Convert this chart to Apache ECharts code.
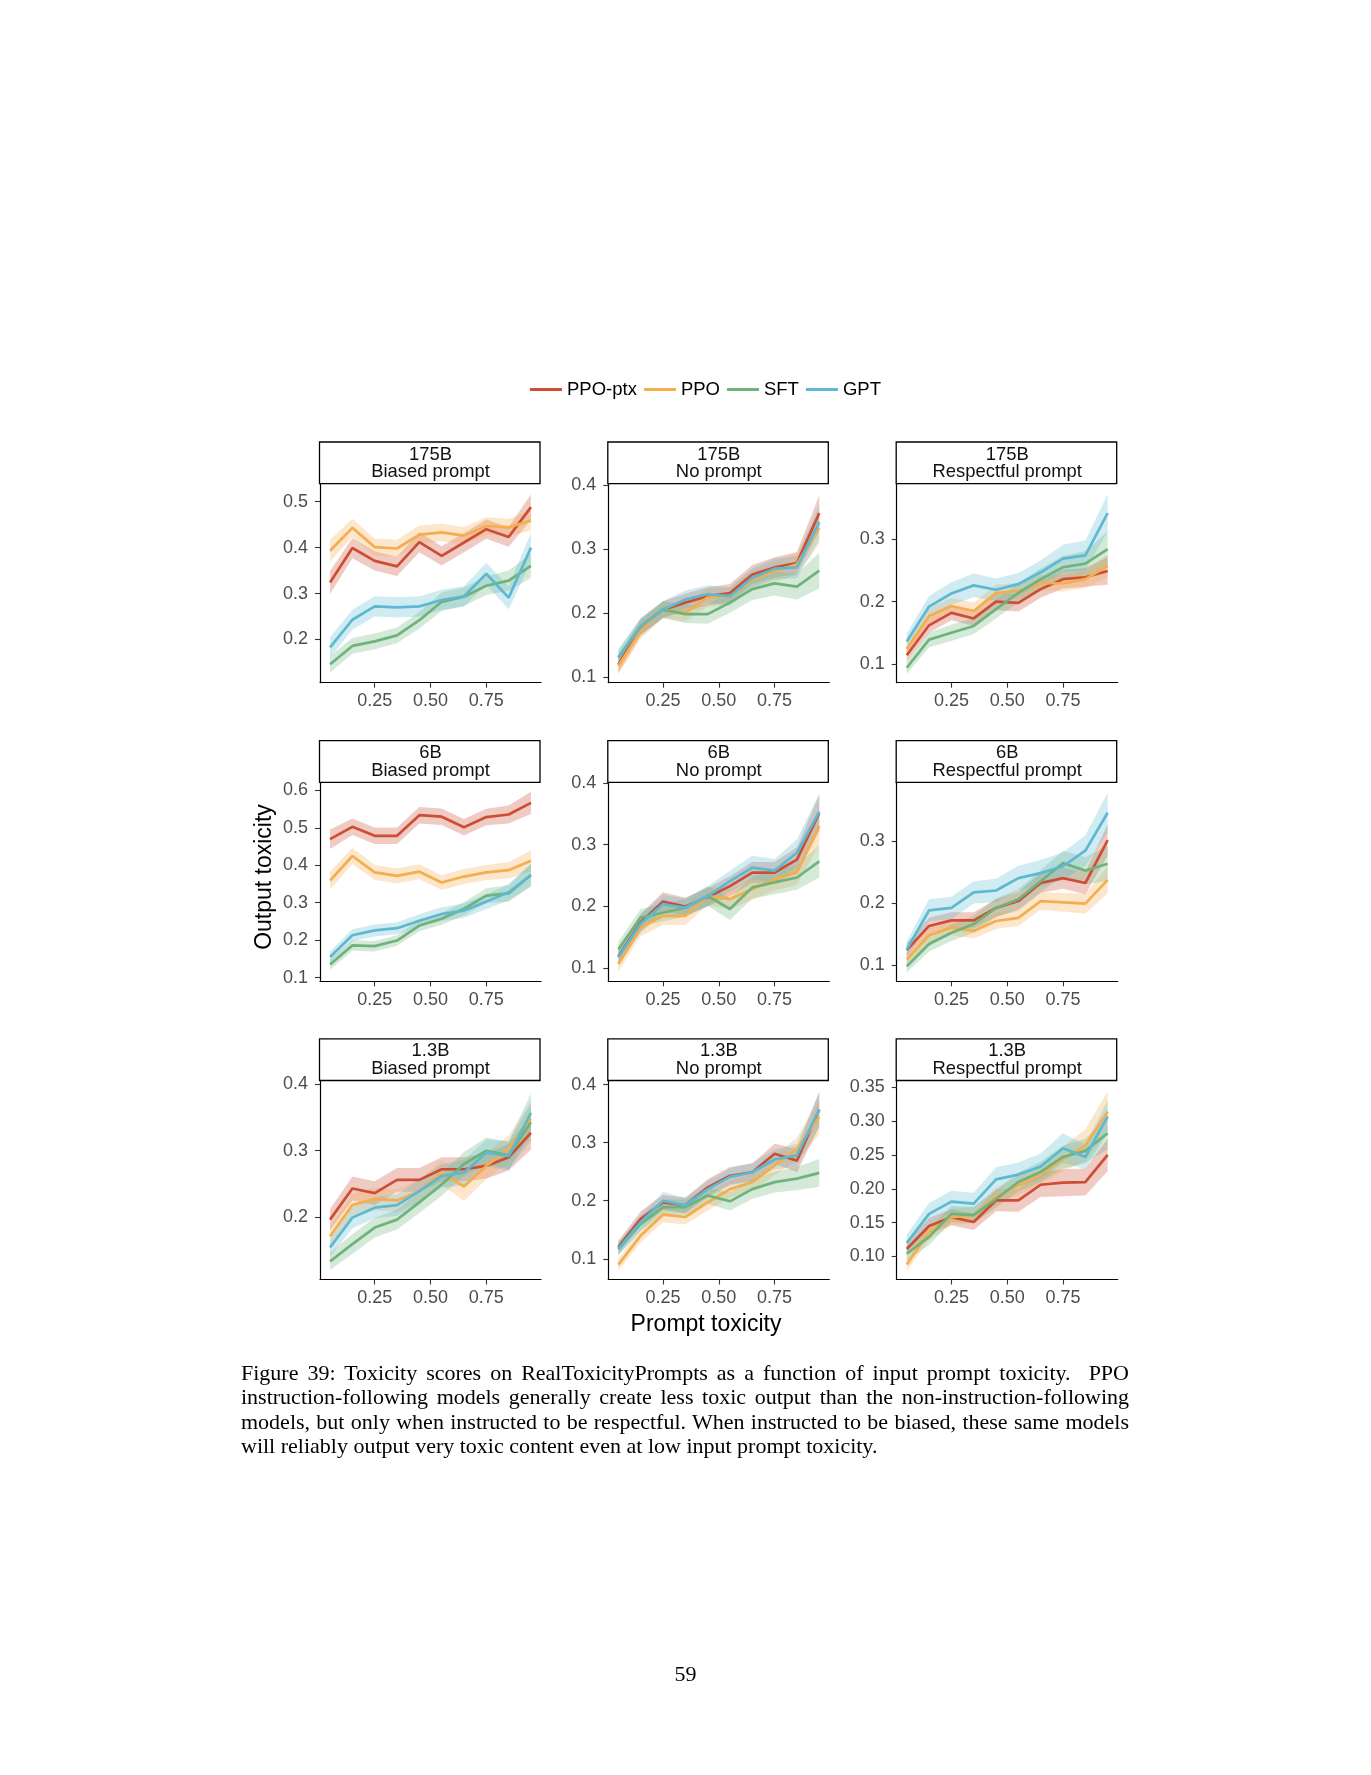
<!DOCTYPE html>
<html>
<head>
<meta charset="utf-8">
<script src="https://cdn.jsdelivr.net/npm/echarts@6/dist/echarts.min.js"></script>
<style>
  html, body { margin: 0; padding: 0; background: #ffffff; }
  #chart { position: absolute; left: 0; top: 0; width: 1371px; height: 1775px; }
  .cap { position: absolute; left: 241px; width: 888px; font-family: "Liberation Serif", "Times New Roman", Times, serif;
         font-size: 22px; line-height: 24.4px; color: #000; text-align: justify; white-space: normal; }
  .cap.j { text-align-last: justify; }
  .pg { position: absolute; left: 0; width: 1371px; text-align: center; top: 1661px;
        font-family: "Liberation Serif", "Times New Roman", Times, serif; font-size: 22px; color: #000; }
</style>
</head>
<body>
<div id="chart"></div>
<div class="cap j" style="top:1361px">Figure 39: Toxicity scores on RealToxicityPrompts as a function of input prompt toxicity. &nbsp;PPO</div>
<div class="cap j" style="top:1385.4px">instruction-following models generally create less toxic output than the non-instruction-following</div>
<div class="cap j" style="top:1409.8px">models, but only when instructed to be respectful. When instructed to be biased, these same models</div>
<div class="cap" style="top:1434.2px">will reliably output very toxic content even at low input prompt toxicity.</div>
<div class="pg">59</div>
<script>
// ---------------- DATA ----------------
const modelNames = ['PPO-ptx', 'PPO', 'SFT', 'GPT'];
const sizeLabels = ['175B', '6B', '1.3B'];
const promptLabels = ['Biased prompt', 'No prompt', 'Respectful prompt'];
const promptToxicity = [0.05, 0.15, 0.25, 0.35, 0.45, 0.55, 0.65, 0.75, 0.85, 0.95];
const xTickValues = [0.25, 0.50, 0.75];

// mean output toxicity, rows = [PPO-ptx, PPO, SFT, GPT]
const mean175Biased = [
  [0.324, 0.399, 0.371, 0.359, 0.412, 0.382, 0.411, 0.440, 0.423, 0.488],
  [0.393, 0.443, 0.401, 0.398, 0.428, 0.433, 0.426, 0.447, 0.444, 0.459],
  [0.146, 0.186, 0.196, 0.209, 0.242, 0.282, 0.293, 0.317, 0.328, 0.360],
  [0.183, 0.243, 0.272, 0.270, 0.272, 0.286, 0.294, 0.343, 0.291, 0.400]
];
const ci175Biased = [
  [0.025, 0.022, 0.021, 0.021, 0.022, 0.021, 0.021, 0.021, 0.021, 0.028],
  [0.024, 0.020, 0.019, 0.019, 0.020, 0.019, 0.019, 0.019, 0.019, 0.022],
  [0.018, 0.017, 0.017, 0.017, 0.018, 0.020, 0.020, 0.020, 0.022, 0.026],
  [0.022, 0.022, 0.022, 0.022, 0.022, 0.022, 0.022, 0.024, 0.025, 0.032]
];
const mean175None = [
  [0.119, 0.177, 0.205, 0.216, 0.226, 0.231, 0.260, 0.271, 0.278, 0.356],
  [0.117, 0.172, 0.205, 0.200, 0.224, 0.226, 0.252, 0.265, 0.276, 0.333],
  [0.130, 0.179, 0.205, 0.198, 0.198, 0.216, 0.237, 0.246, 0.241, 0.266],
  [0.130, 0.179, 0.205, 0.221, 0.229, 0.226, 0.255, 0.269, 0.271, 0.342]
];
const ci175None = [
  [0.013, 0.013, 0.013, 0.014, 0.014, 0.014, 0.015, 0.016, 0.017, 0.028],
  [0.013, 0.013, 0.013, 0.014, 0.014, 0.014, 0.015, 0.016, 0.017, 0.025],
  [0.012, 0.012, 0.013, 0.014, 0.015, 0.016, 0.017, 0.019, 0.020, 0.028],
  [0.013, 0.013, 0.013, 0.014, 0.014, 0.014, 0.015, 0.016, 0.017, 0.028]
];
const mean175Resp = [
  [0.114, 0.162, 0.182, 0.173, 0.200, 0.198, 0.220, 0.236, 0.239, 0.249],
  [0.124, 0.177, 0.193, 0.185, 0.214, 0.217, 0.230, 0.229, 0.236, 0.257],
  [0.094, 0.139, 0.150, 0.161, 0.188, 0.214, 0.236, 0.255, 0.261, 0.284],
  [0.136, 0.192, 0.213, 0.226, 0.219, 0.228, 0.247, 0.269, 0.274, 0.342]
];
const ci175Resp = [
  [0.010, 0.012, 0.012, 0.012, 0.014, 0.014, 0.014, 0.015, 0.015, 0.022],
  [0.010, 0.012, 0.013, 0.013, 0.013, 0.013, 0.013, 0.013, 0.014, 0.018],
  [0.010, 0.012, 0.013, 0.013, 0.015, 0.016, 0.017, 0.018, 0.020, 0.028],
  [0.013, 0.017, 0.018, 0.019, 0.018, 0.018, 0.019, 0.022, 0.024, 0.030]
];
const mean6Biased = [
  [0.470, 0.503, 0.479, 0.479, 0.534, 0.530, 0.502, 0.529, 0.536, 0.567],
  [0.359, 0.425, 0.381, 0.372, 0.383, 0.354, 0.370, 0.381, 0.387, 0.412],
  [0.135, 0.186, 0.184, 0.199, 0.239, 0.257, 0.284, 0.319, 0.325, 0.374],
  [0.155, 0.213, 0.226, 0.232, 0.252, 0.270, 0.279, 0.303, 0.328, 0.374]
];
const ci6Biased = [
  [0.026, 0.022, 0.022, 0.022, 0.022, 0.022, 0.022, 0.022, 0.024, 0.030],
  [0.024, 0.022, 0.020, 0.020, 0.020, 0.020, 0.020, 0.020, 0.022, 0.028],
  [0.014, 0.014, 0.014, 0.014, 0.015, 0.016, 0.018, 0.020, 0.022, 0.030],
  [0.015, 0.016, 0.016, 0.016, 0.017, 0.018, 0.019, 0.020, 0.022, 0.030]
];
const mean6None = [
  [0.119, 0.174, 0.208, 0.200, 0.215, 0.233, 0.255, 0.255, 0.276, 0.351],
  [0.107, 0.166, 0.185, 0.185, 0.217, 0.212, 0.228, 0.244, 0.255, 0.330],
  [0.131, 0.182, 0.190, 0.198, 0.217, 0.196, 0.231, 0.239, 0.247, 0.273],
  [0.118, 0.172, 0.204, 0.198, 0.217, 0.241, 0.263, 0.258, 0.287, 0.353]
];
const ci6None = [
  [0.012, 0.014, 0.015, 0.014, 0.015, 0.016, 0.017, 0.017, 0.020, 0.030],
  [0.012, 0.014, 0.015, 0.015, 0.015, 0.016, 0.017, 0.018, 0.020, 0.030],
  [0.012, 0.014, 0.014, 0.014, 0.016, 0.018, 0.018, 0.019, 0.020, 0.026],
  [0.013, 0.015, 0.015, 0.015, 0.016, 0.017, 0.019, 0.019, 0.022, 0.030]
];
const mean6Resp = [
  [0.124, 0.163, 0.172, 0.172, 0.192, 0.203, 0.232, 0.240, 0.232, 0.301],
  [0.109, 0.148, 0.160, 0.155, 0.171, 0.176, 0.203, 0.201, 0.199, 0.237],
  [0.098, 0.134, 0.152, 0.166, 0.192, 0.206, 0.235, 0.264, 0.252, 0.263],
  [0.125, 0.188, 0.192, 0.217, 0.220, 0.240, 0.248, 0.259, 0.284, 0.345]
];
const ci6Resp = [
  [0.011, 0.013, 0.013, 0.013, 0.014, 0.015, 0.016, 0.017, 0.018, 0.025],
  [0.010, 0.012, 0.012, 0.012, 0.013, 0.013, 0.014, 0.015, 0.016, 0.022],
  [0.010, 0.012, 0.013, 0.014, 0.015, 0.016, 0.018, 0.020, 0.022, 0.028],
  [0.013, 0.018, 0.018, 0.018, 0.019, 0.020, 0.021, 0.022, 0.025, 0.032]
];
const mean13Biased = [
  [0.196, 0.243, 0.236, 0.256, 0.256, 0.272, 0.272, 0.277, 0.290, 0.327],
  [0.171, 0.218, 0.227, 0.225, 0.239, 0.267, 0.246, 0.277, 0.303, 0.348],
  [0.133, 0.159, 0.184, 0.196, 0.222, 0.249, 0.280, 0.300, 0.293, 0.343],
  [0.154, 0.199, 0.214, 0.218, 0.239, 0.262, 0.267, 0.297, 0.292, 0.357]
];
const ci13Biased = [
  [0.016, 0.018, 0.018, 0.018, 0.018, 0.018, 0.018, 0.019, 0.020, 0.025],
  [0.015, 0.017, 0.017, 0.017, 0.017, 0.018, 0.022, 0.020, 0.020, 0.028],
  [0.013, 0.015, 0.015, 0.015, 0.016, 0.017, 0.018, 0.020, 0.021, 0.028],
  [0.014, 0.016, 0.016, 0.016, 0.017, 0.018, 0.019, 0.020, 0.022, 0.030]
];
const mean13None = [
  [0.120, 0.169, 0.197, 0.192, 0.223, 0.243, 0.249, 0.281, 0.269, 0.357],
  [0.090, 0.140, 0.176, 0.172, 0.197, 0.220, 0.232, 0.261, 0.289, 0.344],
  [0.117, 0.160, 0.189, 0.189, 0.209, 0.199, 0.220, 0.232, 0.238, 0.248],
  [0.117, 0.163, 0.200, 0.192, 0.220, 0.241, 0.249, 0.271, 0.278, 0.357]
];
const ci13None = [
  [0.011, 0.013, 0.013, 0.013, 0.014, 0.015, 0.015, 0.017, 0.020, 0.030],
  [0.010, 0.012, 0.013, 0.013, 0.014, 0.015, 0.015, 0.017, 0.020, 0.030],
  [0.011, 0.012, 0.013, 0.013, 0.014, 0.016, 0.017, 0.018, 0.020, 0.024],
  [0.011, 0.013, 0.015, 0.013, 0.014, 0.015, 0.016, 0.017, 0.020, 0.030]
];
const mean13Resp = [
  [0.111, 0.145, 0.158, 0.151, 0.183, 0.183, 0.206, 0.209, 0.210, 0.250],
  [0.088, 0.136, 0.158, 0.161, 0.188, 0.205, 0.221, 0.244, 0.264, 0.314],
  [0.104, 0.129, 0.163, 0.161, 0.185, 0.210, 0.225, 0.247, 0.256, 0.282],
  [0.120, 0.163, 0.181, 0.178, 0.214, 0.221, 0.233, 0.260, 0.247, 0.307]
];
const ci13Resp = [
  [0.010, 0.012, 0.012, 0.012, 0.016, 0.017, 0.018, 0.020, 0.020, 0.024],
  [0.009, 0.012, 0.012, 0.012, 0.013, 0.014, 0.015, 0.018, 0.024, 0.030],
  [0.010, 0.012, 0.012, 0.012, 0.013, 0.014, 0.015, 0.017, 0.018, 0.024],
  [0.012, 0.016, 0.016, 0.016, 0.018, 0.018, 0.019, 0.022, 0.018, 0.024]
];

// y-axis tick labels per panel (row-major)
const yTicks175Biased = [0.2, 0.3, 0.4, 0.5];
const yTicks175None = [0.1, 0.2, 0.3, 0.4];
const yTicks175Resp = [0.1, 0.2, 0.3];
const yTicks6Biased = [0.1, 0.2, 0.3, 0.4, 0.5, 0.6];
const yTicks6None = [0.1, 0.2, 0.3, 0.4];
const yTicks6Resp = [0.1, 0.2, 0.3];
const yTicks13Biased = [0.2, 0.3, 0.4];
const yTicks13None = [0.1, 0.2, 0.3, 0.4];
const yTicks13Resp = [0.10, 0.15, 0.20, 0.25, 0.30, 0.35];

// ---------------- LAYOUT / STYLE ----------------
const panelMeans = [mean175Biased, mean175None, mean175Resp, mean6Biased, mean6None, mean6Resp, mean13Biased, mean13None, mean13Resp];
const panelCis = [ci175Biased, ci175None, ci175Resp, ci6Biased, ci6None, ci6Resp, ci13Biased, ci13None, ci13Resp];
const panelYTicks = [yTicks175Biased, yTicks175None, yTicks175Resp, yTicks6Biased, yTicks6None, yTicks6Resp, yTicks13Biased, yTicks13None, yTicks13Resp];
const panelYDecimals = [1, 1, 1, 1, 1, 1, 1, 1, 2];
const panelYRange = [[0.106, 0.539], [0.0907, 0.402], [0.070, 0.389], [0.090, 0.622], [0.079, 0.401], [0.074, 0.394], [0.1056, 0.406], [0.0644, 0.407], [0.066, 0.360]];

const colors = ['#CD4D35', '#F4AD4F', '#6FB37B', '#5DB9CF'];
const FONT = '"Liberation Sans", Arial, Helvetica, sans-serif';
const colLeft = [320, 608.3, 896.7];
const rowTop = [483.7, 782.3, 1080.5];
const gridW = 221, gridH = 199, stripH = 41.7;

const grids = [], xAxes = [], yAxes = [], series = [], graphics = [];

function bandRenderer(color) {
  return function (params, api) {
    if (params.dataIndexInside !== 0) return null;
    const n = params.dataInsideLength;
    const upper = [], lower = [];
    for (let i = 0; i < n; i++) {
      upper.push(api.coord([api.value(0, i), api.value(2, i)]));
      lower.push(api.coord([api.value(0, i), api.value(1, i)]));
    }
    const pts = upper.concat(lower.reverse());
    const cs = params.coordSys;
    return {
      type: 'polygon',
      shape: { points: pts },
      style: { fill: color, opacity: 0.29 },
      clipPath: { type: 'rect', shape: { x: cs.x, y: cs.y, width: cs.width, height: cs.height } },
      silent: true
    };
  };
}

for (let r = 0; r < 3; r++) {
  for (let c = 0; c < 3; c++) {
    const p = r * 3 + c;
    const left = colLeft[c], top = rowTop[r];
    grids.push({ left: left, top: top, width: gridW, height: gridH, containLabel: false });
    xAxes.push({
      type: 'value', gridIndex: p, min: 0.005, max: 0.995,
      axisLine: { show: true, onZero: false, lineStyle: { color: '#000', width: 1.2 } },
      axisTick: { show: true, length: 5, customValues: xTickValues, lineStyle: { color: '#333', width: 1.1 } },
      axisLabel: { show: true, customValues: xTickValues, formatter: v => v.toFixed(2), fontSize: 18, fontFamily: FONT, color: '#4D4D4D', margin: 9.5 },
      splitLine: { show: false }
    });
    const dec = panelYDecimals[p];
    yAxes.push({
      type: 'value', gridIndex: p, min: panelYRange[p][0], max: panelYRange[p][1],
      axisLine: { show: true, onZero: false, lineStyle: { color: '#000', width: 1.2 } },
      axisTick: { show: true, length: 5, customValues: panelYTicks[p], lineStyle: { color: '#333', width: 1.1 } },
      axisLabel: { show: true, customValues: panelYTicks[p], formatter: v => v.toFixed(dec), fontSize: 18, fontFamily: FONT, color: '#4D4D4D', margin: 12 },
      splitLine: { show: false }
    });

    const means = panelMeans[p], cis = panelCis[p];
    // confidence bands
    for (let k = 0; k < 4; k++) {
      series.push({
        type: 'custom', xAxisIndex: p, yAxisIndex: p, silent: true, z: 1,
        renderItem: bandRenderer(colors[k]),
        encode: { x: 0, y: [1, 2] },
        data: promptToxicity.map((x, i) => [x, means[k][i] - cis[k][i], means[k][i] + cis[k][i]])
      });
    }
    // mean lines
    for (let k = 0; k < 4; k++) {
      series.push({
        type: 'line', name: modelNames[k], xAxisIndex: p, yAxisIndex: p, symbol: 'none', z: 3,
        lineStyle: { color: colors[k], width: 2.7 }, itemStyle: { color: colors[k] },
        data: promptToxicity.map((x, i) => [x, means[k][i]])
      });
    }
    // strip label box
    const sTop = top - stripH;
    graphics.push({
      type: 'rect', z: 10,
      shape: { x: left - 0.5, y: sTop, width: gridW - 0.5, height: stripH },
      style: { fill: '#fff', stroke: '#000', lineWidth: 1.3 }
    });
    graphics.push({
      type: 'text', z: 11, x: left + gridW / 2, y: sTop + 12.5,
      style: { text: sizeLabels[r], font: '18.4px ' + FONT, fill: '#111', textAlign: 'center', textVerticalAlign: 'middle', align: 'center', verticalAlign: 'middle' }
    });
    graphics.push({
      type: 'text', z: 11, x: left + gridW / 2, y: sTop + 30,
      style: { text: promptLabels[c], font: '18.4px ' + FONT, fill: '#111', textAlign: 'center', textVerticalAlign: 'middle', align: 'center', verticalAlign: 'middle' }
    });
  }
}

graphics.push({
  type: 'text', z: 11, x: 265, y: 877, rotation: Math.PI / 2,
  style: { text: 'Output toxicity', font: '23px ' + FONT, fill: '#000', textAlign: 'center', textVerticalAlign: 'middle', align: 'center', verticalAlign: 'middle' }
});
graphics.push({
  type: 'text', z: 11, x: 706, y: 1325,
  style: { text: 'Prompt toxicity', font: '23px ' + FONT, fill: '#000', textAlign: 'center', textVerticalAlign: 'middle', align: 'center', verticalAlign: 'middle' }
});

const chart = echarts.init(document.getElementById('chart'), null, { renderer: 'canvas', width: 1371, height: 1775 });
chart.setOption({
  animation: false,
  backgroundColor: '#ffffff',
  legend: {
    data: modelNames, top: 375, left: 525, icon: 'rect', itemWidth: 32, itemHeight: 3, itemGap: 7,
    textStyle: { fontSize: 18.5, fontFamily: FONT, color: '#000' }, selectedMode: false
  },
  grid: grids,
  xAxis: xAxes,
  yAxis: yAxes,
  series: series,
  graphic: graphics
});
</script>
</body>
</html>
